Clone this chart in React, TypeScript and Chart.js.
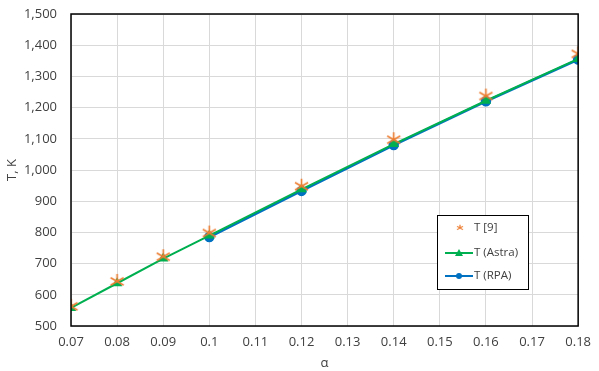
import React, { useEffect, useRef } from "react";
import { Chart, registerables } from "chart.js";

Chart.register(...registerables);

const alphaRef9 = [0.07, 0.08, 0.09, 0.1, 0.12, 0.14, 0.16, 0.18];
const tRef9 = [563, 643, 722, 798, 948, 1097, 1237, 1372];

const alphaAstra = [0.07, 0.08, 0.09, 0.1, 0.12, 0.14, 0.16, 0.18];
const tAstra = [558, 637, 716, 790, 938, 1083, 1222, 1356];

const alphaRpa = [0.1, 0.12, 0.14, 0.16, 0.18];
const tRpa = [785, 933, 1080, 1220, 1354];

const seriesNames = ["T [9]", "T (Astra)", "T (RPA)"];
const xTitle = "α";
const yTitle = "T, K";

const ORANGE = "#ED7D31";
const GREEN = "#00B050";
const BLUE = "#0070C0";
const TEXT = "#404040";
const FONT = "'Open Sans', 'DejaVu Sans', sans-serif";

function makeStar(size: number) {
  const c = document.createElement("canvas");
  c.width = size;
  c.height = size;
  const ctx = c.getContext("2d")!;
  ctx.strokeStyle = ORANGE;
  ctx.lineWidth = 1.6;
  const m = size / 2;
  const r = size / 2 - 1;
  ctx.beginPath();
  ctx.moveTo(m - r * 0.87, m - r * 0.5);
  ctx.lineTo(m + r * 0.87, m + r * 0.5);
  ctx.moveTo(m + r * 0.87, m - r * 0.5);
  ctx.lineTo(m - r * 0.87, m + r * 0.5);
  ctx.moveTo(m, m - r);
  ctx.lineTo(m, m);
  ctx.stroke();
  return c;
}

let smallStar: HTMLCanvasElement | null = null;

const legendPlugin = {
  id: "boxLegend",
  afterDraw(chart: any) {
    const ctx = chart.ctx;
    const x = 437, y = 215, w = 91, h = 74;
    if (!smallStar) smallStar = makeStar(12);
    ctx.save();
    ctx.fillStyle = "#ffffff";
    ctx.fillRect(x, y, w, h);
    ctx.strokeStyle = "#000000";
    ctx.lineWidth = 1;
    ctx.strokeRect(x + 0.5, y + 0.5, w, h);
    ctx.font = `11.5px ${FONT}`;
    ctx.fillStyle = TEXT;
    ctx.textBaseline = "middle";
    const rows = [y + 13, y + 38, y + 61];
    ctx.drawImage(smallStar, x + 19, rows[0] - 4, 8, 8);
    ctx.fillText(seriesNames[0], x + 37, rows[0]);
    ctx.strokeStyle = GREEN;
    ctx.lineWidth = 2;
    ctx.beginPath();
    ctx.moveTo(x + 8, rows[1]);
    ctx.lineTo(x + 36, rows[1]);
    ctx.stroke();
    ctx.fillStyle = GREEN;
    ctx.beginPath();
    ctx.moveTo(x + 22, rows[1] - 4);
    ctx.lineTo(x + 26, rows[1] + 3);
    ctx.lineTo(x + 18, rows[1] + 3);
    ctx.closePath();
    ctx.fill();
    ctx.fillStyle = TEXT;
    ctx.fillText(seriesNames[1], x + 37, rows[1]);
    ctx.strokeStyle = BLUE;
    ctx.lineWidth = 2;
    ctx.beginPath();
    ctx.moveTo(x + 8, rows[2]);
    ctx.lineTo(x + 36, rows[2]);
    ctx.stroke();
    ctx.fillStyle = BLUE;
    ctx.beginPath();
    ctx.arc(x + 22, rows[2], 3, 0, Math.PI * 2);
    ctx.fill();
    ctx.fillStyle = TEXT;
    ctx.fillText(seriesNames[2], x + 37, rows[2]);
    ctx.restore();
  },
};

const borderPlugin = {
  id: "plotBorder",
  afterDatasetsDraw(chart: any) {
    const { left, right, top, bottom } = chart.chartArea;
    const ctx = chart.ctx;
    ctx.save();
    ctx.strokeStyle = "#000000";
    ctx.lineWidth = 1.5;
    ctx.strokeRect(left, top, right - left, bottom - top);
    ctx.restore();
  },
};

export default function App() {
  const ref = useRef<HTMLCanvasElement>(null);
  useEffect(() => {
    document.body.style.margin = "0";
    const star = makeStar(17);
    const chart: any = new Chart(ref.current!, {
      type: "scatter",
      data: {
        datasets: [
          {
            label: seriesNames[2],
            data: alphaRpa.map((a, i) => ({ x: a, y: tRpa[i] })),
            showLine: true,
            borderColor: BLUE,
            backgroundColor: BLUE,
            borderWidth: 2.5,
            pointStyle: "circle",
            pointRadius: 4,
            order: 3,
          },
          {
            label: seriesNames[1],
            data: alphaAstra.map((a, i) => ({ x: a, y: tAstra[i] })),
            showLine: true,
            borderColor: GREEN,
            backgroundColor: GREEN,
            borderWidth: 2,
            pointStyle: "triangle",
            pointRadius: 4,
            order: 2,
          },
          {
            label: seriesNames[0],
            data: alphaRef9.map((a, i) => ({ x: a, y: tRef9[i] })),
            showLine: false,
            pointStyle: star as any,
            pointRadius: 8,
            order: 1,
          },
        ],
      },
      options: {
        animation: false,
        responsive: false,
        layout: { padding: { left: 4, right: 20, top: 14, bottom: 0 } },
        plugins: { legend: { display: false }, tooltip: { enabled: false } },
        scales: {
          x: {
            type: "linear",
            min: 0.07,
            max: 0.18,
            ticks: {
              stepSize: 0.01,
              color: TEXT,
              font: { family: FONT, size: 13 },
              padding: 8,
              callback: (v: any) => String(Math.round(Number(v) * 100) / 100),
            },
            grid: { color: "#d9d9d9", drawTicks: false },
            border: { display: false },
            title: {
              display: true,
              text: xTitle,
              color: TEXT,
              font: { family: FONT, size: 13 },
              padding: { top: 0, bottom: 0 },
            },
            afterFit: (s: any) => {
              s.height = 45;
            },
          },
          y: {
            min: 500,
            max: 1500,
            ticks: {
              stepSize: 100,
              color: TEXT,
              font: { family: FONT, size: 13 },
              padding: 14,
              callback: (v: any) => Number(v).toLocaleString("en-US"),
            },
            grid: { color: "#d9d9d9", drawTicks: false },
            border: { display: false },
            title: {
              display: true,
              text: yTitle,
              color: TEXT,
              font: { family: FONT, size: 13 },
              padding: 0,
            },
            afterFit: (s: any) => {
              s.width = 67;
              s.paddingTop = 0;
              s.paddingBottom = 0;
            },
          },
        },
      },
      plugins: [borderPlugin, legendPlugin],
    });
    return () => chart.destroy();
  }, []);
  return (
    <div style={{ position: "absolute", left: 0, top: 0, width: 599, height: 371 }}>
      <canvas ref={ref} width={599} height={371} style={{ width: 599, height: 371 }} />
    </div>
  );
}
